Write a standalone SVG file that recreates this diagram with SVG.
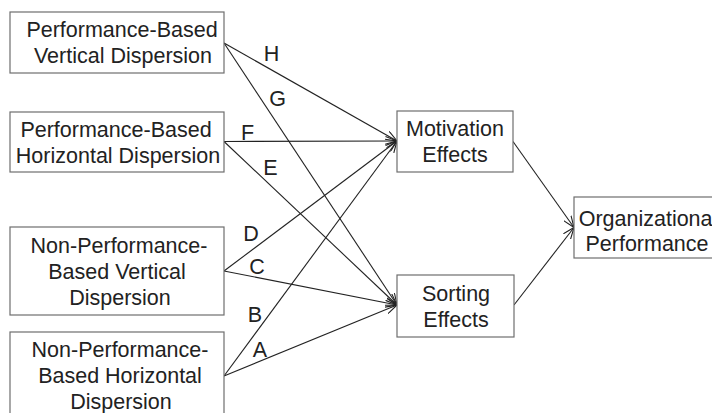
<svg xmlns="http://www.w3.org/2000/svg" width="712" height="413" viewBox="0 0 712 413">
<defs>
<style>
.box{fill:#fff;stroke:#6e6e6e;stroke-width:1.2}
.t{font-family:"Liberation Sans",Arial,sans-serif;font-size:21.5px;fill:#222;text-anchor:middle}
.l{font-family:"Liberation Sans",Arial,sans-serif;font-size:21.5px;fill:#222;text-anchor:middle}
.c{stroke:#222;stroke-width:1.1;fill:none;marker-end:url(#ah)}
</style>
<marker id="ah" viewBox="0 0 12 10" refX="11.5" refY="5" markerWidth="12" markerHeight="10" markerUnits="userSpaceOnUse" orient="auto">
<path d="M0,0.5 L11.5,5 L0,9.5" fill="none" stroke="#222" stroke-width="1.1"/>
</marker>
</defs>
<rect width="712" height="413" fill="#fff"/>
<g id="connectors">
<line class="c" x1="224" y1="43" x2="397" y2="141"/>
<line class="c" x1="224" y1="43" x2="397" y2="305"/>
<line class="c" x1="224" y1="141.5" x2="397" y2="141"/>
<line class="c" x1="224" y1="141.5" x2="397" y2="305"/>
<line class="c" x1="224" y1="271" x2="397" y2="141"/>
<line class="c" x1="224" y1="271" x2="397" y2="305"/>
<line class="c" x1="224" y1="376" x2="397" y2="141"/>
<line class="c" x1="224" y1="376" x2="397" y2="305"/>
<line class="c" x1="513" y1="141.5" x2="574" y2="227.5"/>
<line class="c" x1="514" y1="305" x2="574" y2="227.5"/>
<text class="l" x="271.5" y="61">H</text>
<text class="l" x="277.5" y="106">G</text>
<text class="l" x="247.5" y="140">F</text>
<text class="l" x="270.5" y="175">E</text>
<text class="l" x="251" y="241">D</text>
<text class="l" x="257" y="273.5">C</text>
<text class="l" x="255" y="322">B</text>
<text class="l" x="260" y="357">A</text>
</g>
<g id="pb-vertical">
<rect class="box" x="10" y="12" width="214" height="61"/>
<text class="t" x="122" y="37">Performance-Based</text>
<text class="t" x="123" y="63">Vertical Dispersion</text>
</g>
<g id="pb-horizontal">
<rect class="box" x="10" y="112" width="214" height="60"/>
<text class="t" x="116" y="137">Performance-Based</text>
<text class="t" x="118" y="163">Horizontal Dispersion</text>
</g>
<g id="npb-vertical">
<rect class="box" x="10" y="227" width="214" height="88"/>
<text class="t" x="119" y="253">Non-Performance-</text>
<text class="t" x="117" y="279">Based Vertical</text>
<text class="t" x="120" y="305">Dispersion</text>
</g>
<g id="npb-horizontal">
<rect class="box" x="10" y="332" width="214" height="100"/>
<text class="t" x="120" y="357">Non-Performance-</text>
<text class="t" x="120" y="383">Based Horizontal</text>
<text class="t" x="121" y="409">Dispersion</text>
</g>
<g id="motivation">
<rect class="box" x="397" y="111" width="116" height="61"/>
<text class="t" x="455" y="136">Motivation</text>
<text class="t" x="455" y="161.5">Effects</text>
</g>
<g id="sorting">
<rect class="box" x="397" y="275" width="117" height="62"/>
<text class="t" x="456" y="301">Sorting</text>
<text class="t" x="456" y="327">Effects</text>
</g>
<g id="org-performance">
<rect class="box" x="574" y="197" width="148" height="61"/>
<text class="t" x="648" y="226">Organizational</text>
<text class="t" x="647" y="251">Performance</text>
</g>
</svg>
